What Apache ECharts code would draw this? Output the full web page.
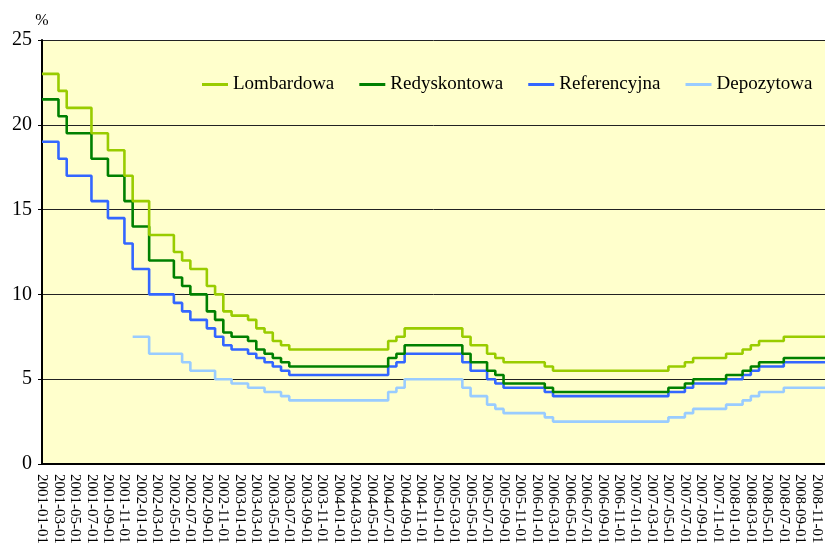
<!DOCTYPE html>
<html>
<head>
<meta charset="UTF-8"/>
<title>Stopy procentowe NBP</title>
<script src="https://cdn.jsdelivr.net/npm/echarts@6/dist/echarts.min.js"></script>
<style>
html, body { margin: 0; padding: 0; background: #fff; }
#placeholder { width: 825px; height: 547px; }
</style>
</head>
<body>
<div id="placeholder"></div>
<script type="text/javascript">
// kategorie miesieczne 2001-01-01 .. 2008-12-01
var months = [];
for (var y = 2001; y <= 2008; y++) {
  for (var m = 1; m <= 12; m++) {
    months.push(y + '-' + (m < 10 ? '0' + m : m) + '-01');
  }
}
var yTicks = [0, 5, 10, 15, 20, 25];
var seriesNames = ['Lombardowa', 'Redyskontowa', 'Referencyjna', 'Depozytowa'];

var lombardowa = [
  23, 23, 22, 21, 21, 21, 19.5, 19.5, 18.5, 18.5, 17, 15.5,
  15.5, 13.5, 13.5, 13.5, 12.5, 12, 11.5, 11.5, 10.5, 10, 9, 8.75,
  8.75, 8.5, 8, 7.75, 7.25, 7, 6.75, 6.75, 6.75, 6.75, 6.75, 6.75,
  6.75, 6.75, 6.75, 6.75, 6.75, 6.75, 7.25, 7.5, 8, 8, 8, 8,
  8, 8, 8, 7.5, 7, 7, 6.5, 6.25, 6, 6, 6, 6,
  6, 5.75, 5.5, 5.5, 5.5, 5.5, 5.5, 5.5, 5.5, 5.5, 5.5, 5.5,
  5.5, 5.5, 5.5, 5.5, 5.75, 5.75, 6, 6.25, 6.25, 6.25, 6.25, 6.5,
  6.5, 6.75, 7, 7.25, 7.25, 7.25, 7.5, 7.5, 7.5, 7.5, 7.5, 7.5
];
var redyskontowa = [
  21.5, 21.5, 20.5, 19.5, 19.5, 19.5, 18, 18, 17, 17, 15.5, 14,
  14, 12, 12, 12, 11, 10.5, 10, 10, 9, 8.5, 7.75, 7.5,
  7.5, 7.25, 6.75, 6.5, 6.25, 6, 5.75, 5.75, 5.75, 5.75, 5.75, 5.75,
  5.75, 5.75, 5.75, 5.75, 5.75, 5.75, 6.25, 6.5, 7, 7, 7, 7,
  7, 7, 7, 6.5, 6, 6, 5.5, 5.25, 4.75, 4.75, 4.75, 4.75,
  4.75, 4.5, 4.25, 4.25, 4.25, 4.25, 4.25, 4.25, 4.25, 4.25, 4.25, 4.25,
  4.25, 4.25, 4.25, 4.25, 4.5, 4.5, 4.75, 5, 5, 5, 5, 5.25,
  5.25, 5.5, 5.75, 6, 6, 6, 6.25, 6.25, 6.25, 6.25, 6.25, 6.25
];
var referencyjna = [
  19, 19, 18, 17, 17, 17, 15.5, 15.5, 14.5, 14.5, 13, 11.5,
  11.5, 10, 10, 10, 9.5, 9, 8.5, 8.5, 8, 7.5, 7, 6.75,
  6.75, 6.5, 6.25, 6, 5.75, 5.5, 5.25, 5.25, 5.25, 5.25, 5.25, 5.25,
  5.25, 5.25, 5.25, 5.25, 5.25, 5.25, 5.75, 6, 6.5, 6.5, 6.5, 6.5,
  6.5, 6.5, 6.5, 6, 5.5, 5.5, 5, 4.75, 4.5, 4.5, 4.5, 4.5,
  4.5, 4.25, 4, 4, 4, 4, 4, 4, 4, 4, 4, 4,
  4, 4, 4, 4, 4.25, 4.25, 4.5, 4.75, 4.75, 4.75, 4.75, 5,
  5, 5.25, 5.5, 5.75, 5.75, 5.75, 6, 6, 6, 6, 6, 6
];
var depozytowa = [
  null, null, null, null, null, null, null, null, null, null, null, 7.5,
  7.5, 6.5, 6.5, 6.5, 6.5, 6, 5.5, 5.5, 5.5, 5, 5, 4.75,
  4.75, 4.5, 4.5, 4.25, 4.25, 4, 3.75, 3.75, 3.75, 3.75, 3.75, 3.75,
  3.75, 3.75, 3.75, 3.75, 3.75, 3.75, 4.25, 4.5, 5, 5, 5, 5,
  5, 5, 5, 4.5, 4, 4, 3.5, 3.25, 3, 3, 3, 3,
  3, 2.75, 2.5, 2.5, 2.5, 2.5, 2.5, 2.5, 2.5, 2.5, 2.5, 2.5,
  2.5, 2.5, 2.5, 2.5, 2.75, 2.75, 3, 3.25, 3.25, 3.25, 3.25, 3.5,
  3.5, 3.75, 4, 4.25, 4.25, 4.25, 4.5, 4.5, 4.5, 4.5, 4.5, 4.5
];
var colors = ['#99CC00', '#008000', '#3366FF', '#99CCFF'];
var values = [lombardowa, redyskontowa, referencyjna, depozytowa];

var font = 'Liberation Serif, Times New Roman, serif';
var myChart = echarts.init(document.getElementById('placeholder'), null, { renderer: 'canvas' });

var series = [];
for (var i = 0; i < seriesNames.length; i++) {
  series.push({
    name: seriesNames[i],
    type: 'line',
    step: 'end',
    data: values[i],
    showSymbol: false,
    symbol: 'none',
    connectNulls: false,
    lineStyle: { color: colors[i], width: 2.6 },
    itemStyle: { color: colors[i] },
    z: 10 - i
  });
}

var option = {
  animation: false,
  backgroundColor: '#ffffff',
  textStyle: { fontFamily: font, color: '#000' },
  legend: {
    left: 197,
    top: 70,
    itemWidth: 26,
    itemHeight: 3,
    itemGap: 25,
    icon: 'rect',
    textStyle: { fontFamily: font, fontSize: 19, color: '#000', padding: [0, 0, 0, 0] },
    data: seriesNames
  },
  grid: {
    show: true,
    left: 42,
    top: 40,
    width: 784,
    height: 430,
    backgroundColor: '#FFFFCC',
    borderWidth: 0,
    containLabel: false
  },
  xAxis: {
    type: 'category',
    boundaryGap: false,
    data: months,
    axisLine: { lineStyle: { color: '#000', width: 2 } },
    axisTick: { show: false },
    axisLabel: {
      interval: 1,
      rotate: -90,
      margin: 10,
      fontFamily: font,
      fontSize: 15,
      color: '#000'
    },
    splitLine: { show: false }
  },
  yAxis: {
    type: 'value',
    min: yTicks[0],
    max: yTicks[yTicks.length - 1],
    interval: 5,
    name: '%',
    nameLocation: 'end',
    nameGap: 11,
    nameTextStyle: { fontFamily: font, fontSize: 16, color: '#000' },
    axisLine: { show: true, lineStyle: { color: '#000', width: 2 } },
    axisTick: { show: true, length: 4, lineStyle: { color: '#000', width: 1 } },
    axisLabel: {
      margin: 10,
      fontFamily: font,
      fontSize: 20,
      color: '#000'
    },
    splitLine: { show: true, lineStyle: { color: '#222', width: 1 } }
  },
  series: series
};

if (option && typeof option === "object") {
  myChart.setOption(option, true);
}
</script>
</body>
</html>
